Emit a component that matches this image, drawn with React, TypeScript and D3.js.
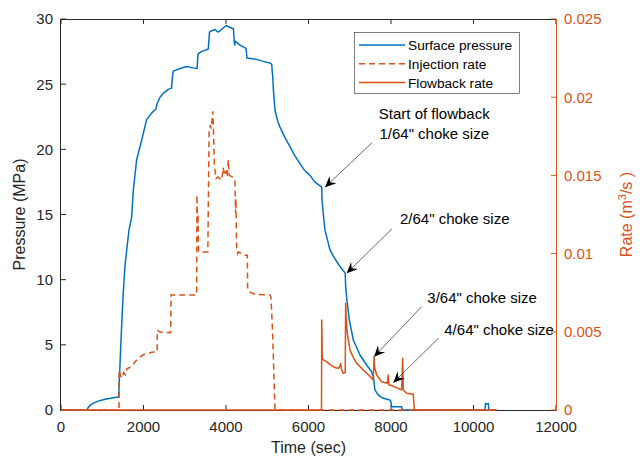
import React from "react";
import * as d3 from "d3";

// Time (s) vs surface pressure (MPa)
const pressureData: [number, number][] = [
  [0, 0], [640, 0], [650, 0.15], [700, 0.35], [800, 0.55], [900, 0.68], [1000, 0.77],
  [1100, 0.85], [1200, 0.9], [1300, 0.96], [1400, 1.0], [1410, 2.0], [1450, 5], [1500, 8.5],
  [1550, 11], [1600, 12.5], [1648, 13.8], [1713, 14.8], [1754, 16.9], [1834, 19.2],
  [1956, 20.7], [2077, 22.3], [2200, 22.8], [2300, 23.1], [2330, 23.5], [2400, 24.0],
  [2481, 24.3], [2600, 24.6], [2680, 24.7], [2700, 25.5], [2720, 26.0], [2885, 26.2],
  [3046, 26.35], [3200, 26.25], [3300, 26.2], [3320, 27.3], [3400, 27.5], [3571, 27.7],
  [3600, 29.0], [3650, 29.1], [3733, 29.2], [3800, 29.0], [3855, 29.1], [4000, 29.5],
  [4100, 29.35], [4180, 29.25], [4200, 28.3], [4210, 28.0], [4220, 28.3], [4339, 28.0],
  [4485, 27.75], [4510, 27.0], [4745, 26.9], [4900, 26.75], [5083, 26.6], [5110, 26.5],
  [5120, 26.0], [5131, 25.7], [5150, 24.5], [5188, 23.0], [5250, 22.2], [5309, 21.7],
  [5430, 20.9], [5551, 20.2], [5670, 19.5], [5794, 18.9], [5900, 18.4], [6036, 18.0],
  [6150, 17.5], [6319, 17.1], [6330, 16.0], [6360, 15.0], [6400, 13.8], [6521, 12.3],
  [6600, 11.8], [6723, 11.2], [6800, 10.85], [6890, 10.5], [6900, 9.5], [6930, 8.44],
  [6990, 6.9], [7087, 5.37], [7248, 4.22], [7410, 3.45], [7531, 2.94], [7580, 2.43],
  [7600, 1.8], [7612, 1.53], [7693, 1.15], [7814, 0.9], [7976, 0.77], [8000, 0.6],
  [8016, 0.25], [8258, 0.25], [8270, 0], [10280, 0], [10290, 0.5], [10340, 0.45],
  [10360, 0.5], [10370, 0], [10562, 0],
];

// Time (s) vs injection rate (m^3/s)
const injectionData: [number, number][] = [
  [0, 0], [1406, 0], [1410, 0.00256], [1440, 0.0022], [1480, 0.00203], [1520, 0.0024],
  [1560, 0.00225], [1600, 0.00265], [1700, 0.00275], [1800, 0.0031], [1900, 0.00335],
  [2000, 0.00355], [2100, 0.0036], [2200, 0.0037], [2330, 0.00372], [2335, 0.0051],
  [2400, 0.00498], [2660, 0.00494], [2667, 0.00736], [3290, 0.00736], [3295, 0.01375],
  [3310, 0.0118], [3320, 0.0125], [3335, 0.0102], [3350, 0.0101], [3560, 0.0101],
  [3590, 0.0178], [3615, 0.0182], [3640, 0.018], [3665, 0.0186], [3680, 0.0191],
  [3695, 0.018], [3720, 0.0156], [3760, 0.0148], [3800, 0.0149], [3897, 0.0147],
  [3930, 0.0155], [3970, 0.015], [4000, 0.0153], [4030, 0.0149], [4056, 0.016],
  [4080, 0.015], [4150, 0.0149], [4218, 0.0147], [4230, 0.0126], [4240, 0.0135],
  [4258, 0.0104], [4280, 0.01], [4300, 0.0101], [4460, 0.0099], [4517, 0.0099],
  [4525, 0.0077], [4600, 0.0075], [4700, 0.0074], [5067, 0.00736], [5091, 0.0072],
  [5130, 0.0049], [5188, 0], [10562, 0],
];

// Time (s) vs flowback rate (m^3/s)
const flowbackData: [number, number][] = [
  [0, 0], [6315, 0], [6321, 0.00575], [6335, 0.00331], [6360, 0.0032], [6441, 0.00309],
  [6520, 0.0029], [6601, 0.00277], [6660, 0.0027], [6723, 0.00267], [6760, 0.0028],
  [6780, 0.00298], [6800, 0.0026], [6844, 0.00234], [6890, 0.0024], [6901, 0.00683],
  [6915, 0.0058], [6940, 0.0049], [7006, 0.00383], [7080, 0.0034], [7168, 0.00298],
  [7329, 0.00256], [7450, 0.00225], [7531, 0.00203], [7571, 0.00192], [7588, 0.00341],
  [7605, 0.0027], [7653, 0.00224], [7774, 0.00181], [7910, 0.00171], [7935, 0.00224],
  [7950, 0.0016], [7976, 0.0016], [8177, 0.00138], [8258, 0.00128], [8283, 0.00331],
  [8300, 0.00128], [8380, 0.00107], [8541, 0.001], [8566, 0], [10562, 0],
];

const xTicks = [0, 2000, 4000, 6000, 8000, 10000, 12000];
const yLeftTicks = [0, 5, 10, 15, 20, 25, 30];
const yRightTicks = [0, 0.005, 0.01, 0.015, 0.02, 0.025];
const yRightLabels = ["0", "0.005", "0.01", "0.015", "0.02", "0.025"];

const legendItems = [
  { label: "Surface pressure", dashed: false, color: "#0072BD" },
  { label: "Injection rate", dashed: true, color: "#D95319" },
  { label: "Flowback rate", dashed: false, color: "#D95319" },
];

// Annotations in data coordinates (time, pressure axis)
const annotations = [
  { lines: ["Start of flowback", "1/64\" choke size"], from: [7539, 20.5], tip: [6400, 17.1], text: [9048, 22.3], anchor: "middle" },
  { lines: ["2/64\" choke size"], from: [8024, 13.9], tip: [6926, 10.5], text: [8218, 14.27], anchor: "start" },
  { lines: ["3/64\" choke size"], from: [8744, 7.93], tip: [7588, 4.09], text: [8880, 8.21], anchor: "start" },
  { lines: ["4/64\" choke size"], from: [9147, 5.5], tip: [8056, 2.1], text: [9292, 5.79], anchor: "start" },
];

const BLUE = "#0072BD";
const ORANGE = "#D95319";
const AXIS = "#262626";
const FONT = "'Liberation Sans', Arial, Helvetica, sans-serif";

export default function App() {
  const W = 643, H = 461;
  const left = 61, right = 556, top = 19, bottom = 410;
  const x = d3.scaleLinear().domain([0, 12000]).range([left, right]);
  const yL = d3.scaleLinear().domain([0, 30]).range([bottom, top]);
  const yR = d3.scaleLinear().domain([0, 0.025]).range([bottom, top]);

  const pLine = d3.line<[number, number]>().x(d => x(d[0])).y(d => yL(d[1]));
  const rLine = d3.line<[number, number]>().x(d => x(d[0])).y(d => yR(d[1]));

  const tickLen = 5;

  const arrowHead = (fx: number, fy: number, tx: number, ty: number) => {
    const ang = Math.atan2(ty - fy, tx - fx);
    const L = 11, w = 5, back = 7;
    const cos = Math.cos(ang), sin = Math.sin(ang);
    const pt = (a: number, b: number) => [tx - a * cos - b * -sin, ty - a * sin - b * cos];
    const p1 = pt(L, w), p2 = pt(back, 0), p3 = pt(L, -w);
    return `M${tx},${ty}L${p1[0]},${p1[1]}L${p2[0]},${p2[1]}L${p3[0]},${p3[1]}Z`;
  };

  return (
    <svg width={W} height={H} style={{ position: "absolute", left: 0, top: 0, background: "#fff" }} fontFamily={FONT}>
      <rect width={W} height={H} fill="#fff" />
      {/* box */}
      <line x1={left} x2={right} y1={top + 0.5} y2={top + 0.5} stroke={AXIS} strokeWidth={1} />
      <line x1={left} x2={right} y1={bottom + 0.5} y2={bottom + 0.5} stroke={AXIS} strokeWidth={1} />
      <line x1={left - 0.5} x2={left - 0.5} y1={top} y2={bottom + 1} stroke={AXIS} strokeWidth={1} />
      {/* x ticks */}
      {xTicks.map(t => (
        <g key={"xt" + t}>
          <line x1={x(t)} x2={x(t)} y1={bottom} y2={bottom - tickLen} stroke={AXIS} strokeWidth={1} />
          <line x1={x(t)} x2={x(t)} y1={top} y2={top + tickLen} stroke={AXIS} strokeWidth={1} />
          <text x={x(t)} y={432} textAnchor="middle" fontSize={15} fill={AXIS}>{t}</text>
        </g>
      ))}
      {/* left ticks */}
      {yLeftTicks.map(v => (
        <g key={"yl" + v}>
          <line x1={left} x2={left + tickLen} y1={yL(v)} y2={yL(v)} stroke={AXIS} strokeWidth={1} />
          <text x={53} y={yL(v)} dy="0.36em" textAnchor="end" fontSize={15} fill={AXIS}>{v}</text>
        </g>
      ))}
      {/* data */}
      <path d={pLine(pressureData) || ""} fill="none" stroke={BLUE} strokeWidth={1.5} strokeLinejoin="round" />
      <path d={rLine(injectionData) || ""} fill="none" stroke={ORANGE} strokeWidth={1.5} strokeDasharray="6,4" />
      <path d={rLine(flowbackData) || ""} fill="none" stroke={ORANGE} strokeWidth={1.5} strokeLinejoin="round" />
      {/* right axis */}
      <line x1={right + 0.5} x2={right + 0.5} y1={top} y2={bottom + 1} stroke={ORANGE} strokeWidth={1} />
      {yRightTicks.map((v, i) => (
        <g key={"yr" + v}>
          <line x1={right} x2={right - tickLen} y1={yR(v)} y2={yR(v)} stroke={ORANGE} strokeWidth={1} />
          <text x={564} y={yR(v)} dy="0.36em" textAnchor="start" fontSize={15} fill={ORANGE}>{yRightLabels[i]}</text>
        </g>
      ))}
      {/* axis labels */}
      <text x={(left + right) / 2} y={453} textAnchor="middle" fontSize={16} fill={AXIS}>Time (sec)</text>
      <text transform={`translate(25,${(top + bottom) / 2}) rotate(-90)`} textAnchor="middle" fontSize={16} fill={AXIS}>Pressure (MPa)</text>
      <text transform={`translate(632,${(top + bottom) / 2}) rotate(-90)`} textAnchor="middle" fontSize={16} fill={ORANGE}>
        Rate (m<tspan dy={-6} fontSize={11}>3</tspan><tspan dy={6}>/s )</tspan>
      </text>
      {/* annotations */}
      {annotations.map((a, i) => {
        const fx = x(a.from[0]), fy = yL(a.from[1]);
        const tx = x(a.tip[0]), ty = yL(a.tip[1]);
        return (
          <g key={"an" + i}>
            <line x1={fx} y1={fy} x2={tx} y2={ty} stroke="#444" strokeWidth={0.8} />
            <path d={arrowHead(fx, fy, tx, ty)} fill="#000" />
            {a.lines.map((ln, j) => (
              <text key={j} x={x(a.text[0])} y={yL(a.text[1]) + j * 19.5} textAnchor={a.anchor as any} fontSize={15} fill="#000">{ln}</text>
            ))}
          </g>
        );
      })}
      {/* legend */}
      <rect x={354.5} y={32.5} width={165} height={61} fill="#fff" stroke={AXIS} strokeWidth={0.6} />
      {legendItems.map((it, i) => {
        const cy = 45 + i * 18.8;
        return (
          <g key={"lg" + i}>
            <line x1={359} x2={405} y1={cy} y2={cy} stroke={it.color} strokeWidth={1.5} strokeDasharray={it.dashed ? "6,4" : undefined} />
            <text x={408} y={cy} dy="0.36em" fontSize={13.7} fill="#000">{it.label}</text>
          </g>
        );
      })}
    </svg>
  );
}
